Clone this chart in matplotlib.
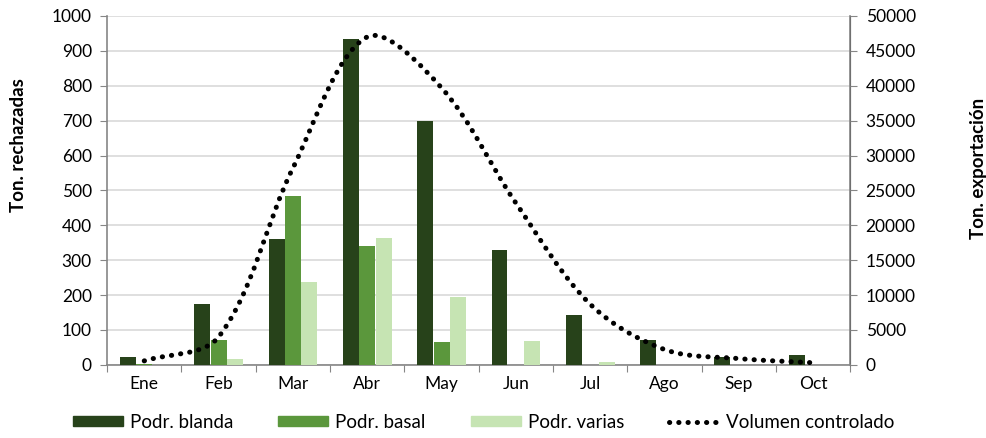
import matplotlib
matplotlib.use("Agg")
import matplotlib.pyplot as plt
import numpy as np
from matplotlib.path import Path
from matplotlib.patches import PathPatch, Patch
from matplotlib.lines import Line2D

months = ["Ene", "Feb", "Mar", "Abr", "May", "Jun", "Jul", "Ago", "Sep", "Oct"]
podr_blanda = [22, 175, 362, 933, 700, 330, 142, 70, 22, 27]
podr_basal = [3, 72, 483, 340, 65, 0, 0, 0, 0, 0]
podr_varias = [0, 18, 237, 365, 195, 68, 8, 0, 0, 0]
volumen = [570, 4000, 28200, 47000, 39700, 23200, 8700, 2200, 900, 300]

left_ticks = list(range(0, 1001, 100))
right_ticks = list(range(0, 50001, 5000))

c_blanda = "#27421a"
c_basal = "#5b973c"
c_varias = "#c6e4b3"

plt.rcParams['font.family'] = ['Lato', 'DejaVu Sans']

fig = plt.figure(figsize=(9.87, 4.38), dpi=100)
ax = fig.add_axes([0.1085, 0.167, 0.753, 0.7965])
ax2 = ax.twinx()

x = np.arange(len(months))
w = 0.215
ax.bar(x - 0.22, podr_blanda, w, color=c_blanda, zorder=3)
ax.bar(x, podr_basal, w, color=c_basal, zorder=3)
ax.bar(x + 0.22, podr_varias, w, color=c_varias, zorder=3)

ax.set_xlim(-0.5, len(months) - 0.5)
ax.set_ylim(0, 1000)
ax.set_yticks(left_ticks)
ax.yaxis.grid(True, color="#d9d9d9", linewidth=1.2, zorder=0)
ax.set_axisbelow(True)

ax.set_xticks(np.arange(-0.5, len(months), 1.0))
ax.set_xticklabels([])
ax.set_xticks(x, minor=True)
ax.set_xticklabels(months, minor=True)
ax.tick_params(axis='x', which='minor', length=0, pad=8, labelsize=12.5)
ax.tick_params(axis='x', which='major', length=5, color="#868686")
ax.tick_params(axis='y', length=5, color="#868686", labelsize=12.5, pad=6)

ax.spines["top"].set_visible(False)
ax2.spines["top"].set_visible(False)
for sp in [ax.spines["left"], ax.spines["bottom"], ax2.spines["right"]]:
    sp.set_color("#868686")
    sp.set_linewidth(1.2)
ax2.spines["left"].set_visible(False)
ax2.spines["bottom"].set_visible(False)

ax2.set_ylim(0, 50000)
ax2.set_yticks(right_ticks)
ax2.tick_params(axis='y', length=5, color="#868686", labelsize=12.5, pad=6)

ax.set_ylabel("Ton. rechazadas", fontsize=13.5, fontweight="bold", va="center")
ax.yaxis.set_label_coords(-0.1198, 0.630)
ax2.set_ylabel("Ton. exportación", fontsize=13.5, fontweight="bold", va="center")
ax2.yaxis.set_label_coords(1.1723, 0.564)

# smooth line (Excel-like Bezier smoothing computed in display space)
P = ax2.transData.transform(np.column_stack([x, volumen]).astype(float))
n = len(P)
verts = [tuple(P[0])]
codes = [Path.MOVETO]
def ctrl(i):
    if i == 0:
        return P[0], P[0] + (P[1] - P[0]) / 3.0
    if i == n - 1:
        return P[-1] - (P[-1] - P[-2]) / 3.0, P[-1]
    d = P[i + 1] - P[i - 1]
    lp = np.hypot(*(P[i] - P[i - 1]))
    ln = np.hypot(*(P[i + 1] - P[i]))
    s = lp + ln
    return P[i] - d * (lp / s) / 3.0, P[i] + d * (ln / s) / 3.0
for i in range(n - 1):
    c1 = ctrl(i)[1]
    c2 = ctrl(i + 1)[0]
    verts += [tuple(c1), tuple(c2), tuple(P[i + 1])]
    codes += [Path.CURVE4] * 3
inv = ax2.transData.inverted()
path = Path(inv.transform(np.array(verts)), codes)
ls = (0, (0.05, 1.8))
patch = PathPatch(path, facecolor="none", edgecolor="black", linewidth=3.6,
                  linestyle=ls, capstyle="round", zorder=5)
ax2.add_patch(patch)

handles = [Patch(color=c_blanda), Patch(color=c_basal), Patch(color=c_varias),
           Line2D([0], [0], color="black", linewidth=3.6, linestyle=ls,
                  dash_capstyle="round")]
labels = ["Podr. blanda", "Podr. basal", "Podr. varias", "Volumen controlado"]
fig.legend(handles, labels, loc="center", bbox_to_anchor=(0.49, 0.036), ncol=4,
           frameon=False, fontsize=13.5, handlelength=2.67, handleheight=0.45,
           columnspacing=2.4, handletextpad=0.37)

fig.savefig("out.png", dpi=100)
